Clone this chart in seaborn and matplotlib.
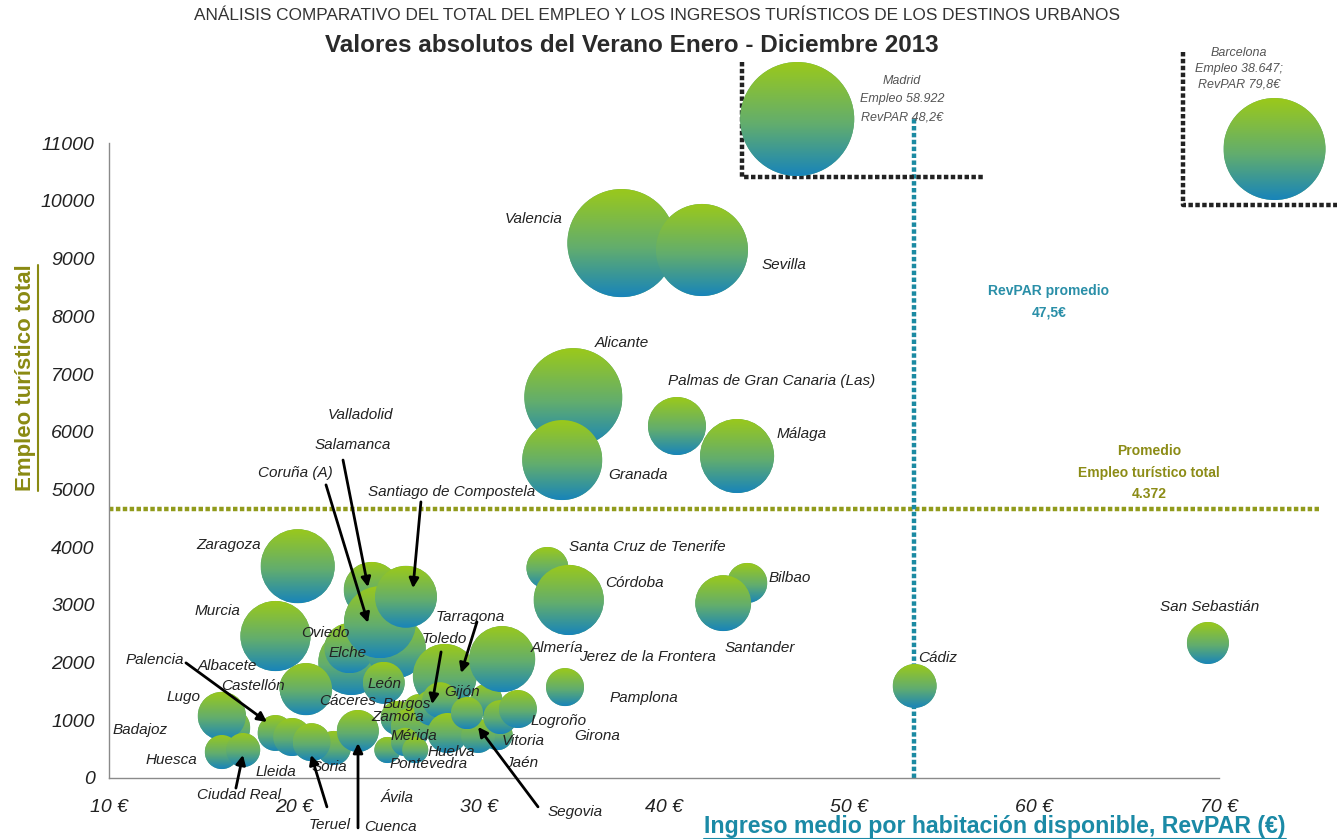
import numpy as np
import pandas as pd
import matplotlib
matplotlib.use("Agg")
import matplotlib.pyplot as plt
import matplotlib.colors as mcolors
from matplotlib.patches import Ellipse
from matplotlib.lines import Line2D
import seaborn as sns

# ---------------- data ----------------
ciudades = ["Madrid", "Barcelona", "Valencia", "Sevilla", "Alicante", "Granada",
            "Palmas de Gran Canaria (Las)", "Málaga", "Zaragoza", "Murcia", "Elche",
            "Oviedo", "Valladolid", "Salamanca", "Coruña (A)", "Santiago de Compostela",
            "León", "Albacete", "Castellón", "Badajoz", "Lugo", "Huesca", "Ciudad Real",
            "Palencia", "Lleida", "Soria", "Teruel", "Cuenca", "Ávila", "Cáceres",
            "Burgos", "Zamora", "Mérida", "Pontevedra", "Tarragona", "Toledo", "Gijón",
            "Huelva", "Jerez de la Frontera", "Almería", "Girona", "Jaén", "Segovia",
            "Vitoria", "Logroño", "Pamplona", "Santa Cruz de Tenerife", "Córdoba",
            "Bilbao", "Santander", "San Sebastián", "Cádiz"]
# RevPAR (€) as placed on the chart (Madrid / Barcelona drawn as insets)
revpar = [47.2, 73.0, 37.7, 42.05, 35.1, 34.5,
          40.7, 43.95, 20.2, 19.0, 23.1,
          23.0, 25.5, 24.2, 24.65, 26.05,
          24.85, 20.4, 20.65, 16.55, 16.1, 16.1, 17.25,
          19.0, 19.9, 22.15, 20.95, 23.45, 25.05, 25.6,
          26.8, 26.3, 26.0, 26.55, 28.15, 27.45, 27.9,
          28.3, 30.4, 31.25, 31.0, 29.95, 29.35,
          31.15, 32.1, 34.65, 33.7, 34.85,
          44.5, 43.2, 69.4, 53.55]
# Empleo turístico total as placed on the chart
empleo = [11420, 10900, 9270, 9150, 6600, 5510,
          6100, 5580, 3670, 2460, 2010,
          2250, 2250, 3260, 2700, 3140,
          1650, 1560, 1540, 870, 1075, 450, 485,
          780, 710, 520, 620, 815, 485, 1040,
          1145, 865, 625, 485, 1770, 1215, 1350,
          780, 1350, 2060, 745, 730, 1125,
          1055, 1195, 1575, 3640, 3085,
          3380, 3030, 2340, 1595]
# bubble magnitude (area index)
tamano = [325, 260, 292, 212, 240, 160,
          84, 137, 137, 123, 109,
          63, 90, 78, 130, 96,
          44, 48, 68, 40, 58, 29, 29,
          32, 36, 29, 36, 44, 17, 29,
          32, 40, 20, 17, 102, 32, 32,
          40, 26, 109, 23, 29, 26,
          29, 36, 36, 44, 123,
          40, 78, 44, 48]

x_ticks = [10, 20, 30, 40, 50, 60, 70]
x_tick_labels = ["10 €", "20 €", "30 €", "40 €", "50 €", "60 €", "70 €"]
y_ticks = [0, 1000, 2000, 3000, 4000, 5000, 6000, 7000, 8000, 9000, 10000, 11000]

revpar_promedio_linea = 53.5
empleo_promedio_linea = 4660

# ---------------- figure ----------------
sns.set_style("white")
plt.rcParams["font.family"] = ["Liberation Sans", "DejaVu Sans"]

W, H, DPI = 1337, 839, 100
fig = plt.figure(figsize=(W / DPI, H / DPI), dpi=DPI)
ax = fig.add_axes([109 / W, 61 / H, (W - 109) / W, 778 / H])

XMAX = 10 + (W - 109) / 18.5
YMAX = 778 * 17.33
ax.set_xlim(10, XMAX)
ax.set_ylim(0, YMAX)

df = pd.DataFrame({"ciudad": ciudades, "revpar": revpar, "empleo": empleo, "tamano": tamano})
sns.scatterplot(data=df, x="revpar", y="empleo", size="tamano",
                sizes=(0, 20.736 * 325), size_norm=(0, 325),
                color="#5fab72", linewidth=0, legend=False, ax=ax, zorder=2)
ax.set_xlim(10, XMAX)
ax.set_ylim(0, YMAX)
ax.set_xlabel("")
ax.set_ylabel("")

# gradient fill for each bubble, using the scatter's own sizes
coll = ax.collections[0]
sizes = coll.get_sizes()
offs = coll.get_offsets()
p0 = ax.transData.transform((0, 0))
p1 = ax.transData.transform((1, 1000))
ux = p1[0] - p0[0]
uy = (p1[1] - p0[1]) / 1000.0
top = np.array(mcolors.to_rgb("#9bc91a"))
mid = np.array(mcolors.to_rgb("#62ad6e"))
bot = np.array(mcolors.to_rgb("#1884ba"))
t = np.linspace(0, 1, 256)[:, None]
g1 = np.clip(t / 0.55, 0, 1)
g2 = np.clip((t - 0.55) / 0.45, 0, 1)
grad = np.where(t <= 0.55, top * (1 - g1) + mid * g1, mid * (1 - g2) + bot * g2)[:, None, :]
for i, ((x, y), s) in enumerate(zip(offs, sizes)):
    r_px = np.sqrt(s) / 2 * DPI / 72
    w = 2 * r_px / ux
    h = 2 * r_px / uy
    im = ax.imshow(grad, extent=[x - w / 2, x + w / 2, y - h / 2, y + h / 2],
                   aspect="auto", origin="upper", interpolation="bilinear",
                   zorder=3 + i * 0.01)
    im.set_clip_path(Ellipse((x, y), w, h, transform=ax.transData))
ax.set_aspect("auto")
ax.set_xlim(10, XMAX)
ax.set_ylim(0, YMAX)

# axes styling
for sp in ["top", "right"]:
    ax.spines[sp].set_visible(False)
for sp in ["left", "bottom"]:
    ax.spines[sp].set_color("#8a8a8a")
    ax.spines[sp].set_linewidth(1.0)
ax.spines["left"].set_bounds(0, 11000)
ax.spines["bottom"].set_bounds(10, 70)
ax.set_xticks(x_ticks)
ax.set_xticklabels(x_tick_labels)
ax.set_yticks(y_ticks)
ax.set_yticklabels([str(v) for v in y_ticks])
ax.tick_params(axis="both", direction="out", length=4.3, width=1, color="#8a8a8a",
               labelsize=14, labelcolor="#222222")
ax.tick_params(axis="x", pad=11)
ax.tick_params(axis="y", pad=6)
for lb in ax.get_xticklabels() + ax.get_yticklabels():
    lb.set_fontstyle("italic")

# average lines
dot = (0, (1, 0.55))
olive = "#919b1c"
teal = "#1b8aa2"
ax.plot([10, 75.5], [empleo_promedio_linea] * 2, color=olive, lw=3.2, ls=dot,
        dash_capstyle="butt", zorder=1)
ax.plot([revpar_promedio_linea] * 2, [0, 11455], color=teal, lw=3.2, ls=dot,
        dash_capstyle="butt", zorder=1)

# inset frames for Madrid and Barcelona
ax.plot([44.22, 44.22, 57.24], [12410, 10415, 10415], color="#222222", lw=3.2, ls=dot,
        dash_capstyle="butt", zorder=1)
ax.plot([68.05, 68.05, 76.4], [12580, 9930, 9930], color="#222222", lw=3.2, ls=dot,
        dash_capstyle="butt", zorder=1, clip_on=False)

small = dict(fontsize=9, style="italic", color="#555555", ha="center", va="center")
for yy, tx in zip([12080, 11770, 11455], ["Madrid", "Empleo 58.922", "RevPAR 48,2€"]):
    ax.text(52.86, yy, tx, zorder=20, **small)
for yy, tx in zip([12565, 12290, 12010], ["Barcelona", "Empleo 38.647;", "RevPAR 79,8€"]):
    ax.text(71.1, yy, tx, zorder=20, **small)

# average texts
ax.text(60.8, 8440, "RevPAR promedio", color="#2a8fa8", fontsize=10, weight="bold",
        ha="center", va="center")
ax.text(60.8, 8075, "47,5€", color="#2a8fa8", fontsize=10, weight="bold",
        ha="center", va="center")
for yy, tx in zip([5665, 5285, 4920], ["Promedio", "Empleo turístico total", "4.372"]):
    ax.text(66.2, yy, tx, color="#8c8c16", fontsize=10, weight="bold", ha="center", va="center")

# city labels (layout)
etiquetas = [
    ("Valencia", 34.5, 9690, "right"), ("Sevilla", 45.3, 8890, "left"),
    ("Alicante", 37.7, 7540, "center"), ("Palmas de Gran Canaria (Las)", 40.2, 6880, "left"),
    ("Málaga", 46.1, 5960, "left"), ("Granada", 37.0, 5250, "left"),
    ("Valladolid", 23.6, 6290, "center"), ("Salamanca", 23.2, 5770, "center"),
    ("Coruña (A)", 20.05, 5290, "center"), ("Santiago de Compostela", 24.0, 4960, "left"),
    ("Zaragoza", 18.2, 4040, "right"), ("Murcia", 17.1, 2890, "right"),
    ("Oviedo", 21.7, 2510, "center"), ("Elche", 22.9, 2170, "center"),
    ("Palencia", 12.5, 2045, "center"), ("Albacete", 16.4, 1940, "center"),
    ("Castellón", 17.8, 1600, "center"), ("Lugo", 14.05, 1400, "center"),
    ("Badajoz", 11.7, 830, "center"), ("Huesca", 13.4, 310, "center"),
    ("Lleida", 19.0, 100, "center"), ("Ciudad Real", 17.0, -295, "center"),
    ("Soria", 21.9, 190, "center"), ("Teruel", 21.9, -815, "center"),
    ("Cuenca", 25.2, -850, "center"), ("Ávila", 25.6, -350, "center"),
    ("Cáceres", 22.9, 1335, "center"), ("León", 24.9, 1630, "center"),
    ("Burgos", 26.1, 1280, "center"), ("Zamora", 25.6, 1060, "center"),
    ("Mérida", 26.5, 730, "center"), ("Huelva", 28.5, 450, "center"),
    ("Pontevedra", 27.3, 240, "center"), ("Jaén", 32.3, 260, "center"),
    ("Vitoria", 32.4, 640, "center"), ("Logroño", 34.3, 990, "center"),
    ("Girona", 36.4, 730, "center"), ("Pamplona", 38.9, 1390, "center"),
    ("Jerez de la Frontera", 39.1, 2100, "center"), ("Almería", 34.2, 2250, "center"),
    ("Santa Cruz de Tenerife", 39.1, 4000, "center"), ("Córdoba", 38.4, 3380, "center"),
    ("Santander", 45.2, 2250, "center"), ("Bilbao", 46.8, 3470, "center"),
    ("San Sebastián", 69.5, 2960, "center"), ("Cádiz", 54.8, 2080, "center"),
    ("Tarragona", 29.5, 2790, "center"), ("Toledo", 28.1, 2410, "center"),
    ("Gijón", 29.1, 1490, "center"), ("Segovia", 35.2, -590, "center"),
]
for name, lx, ly, ha in etiquetas:
    ax.text(lx, ly, name, fontsize=11, style="italic", color="#222222", ha=ha,
            va="center", zorder=30, clip_on=False)

flechas = [
    ((22.65, 5510), (24.0, 3310)), ((21.73, 5080), (24.0, 2690)),
    ((26.86, 4785), (26.43, 3290)), ((14.16, 1995), (18.54, 970)),
    ((16.86, -175), (17.24, 400)), ((21.78, -500), (20.92, 400)),
    ((23.46, -865), (23.46, 605)), ((33.19, -500), (29.95, 885)),
    ((29.89, 2705), (29.03, 1820)), ((27.95, 2185), (27.46, 1280)),
]
for start, tip in flechas:
    ax.annotate("", xy=tip, xytext=start, annotation_clip=False,
                arrowprops=dict(arrowstyle="-|>", color="black", lw=2,
                                mutation_scale=14, shrinkA=0, shrinkB=0), zorder=31)

# titles
fig.text(657 / W, 1 - 15 / H, "ANÁLISIS COMPARATIVO DEL TOTAL DEL EMPLEO Y LOS INGRESOS TURÍSTICOS DE LOS DESTINOS URBANOS",
         ha="center", va="center", fontsize=12.4, color="#333333")
fig.text(632 / W, 1 - 45 / H, "Valores absolutos del Verano Enero - Diciembre 2013",
         ha="center", va="center", fontsize=17.5, weight="bold", color="#2a2a2a")

ylab = fig.text(26 / W, 1 - 378 / H, "Empleo turístico total", rotation=90, ha="center",
                va="center", fontsize=16, weight="bold", color="#8a8a12")
xlab = fig.text(995 / W, 1 - 826 / H, "Ingreso medio por habitación disponible, RevPAR (€)",
                ha="center", va="center", fontsize=16.7, weight="bold", color="#1b8aa6")

fig.canvas.draw()
r = fig.canvas.get_renderer()
bb = ylab.get_window_extent(r)
fig.add_artist(Line2D([(bb.x1 + 1) / W] * 2, [bb.y0 / H, bb.y1 / H], color="#8a8a12", lw=1.5))
bb = xlab.get_window_extent(r)
fig.add_artist(Line2D([bb.x0 / W, bb.x1 / W], [(bb.y0 - 1) / H] * 2, color="#1b8aa6", lw=1.5))

fig.savefig("out.png", dpi=DPI)
